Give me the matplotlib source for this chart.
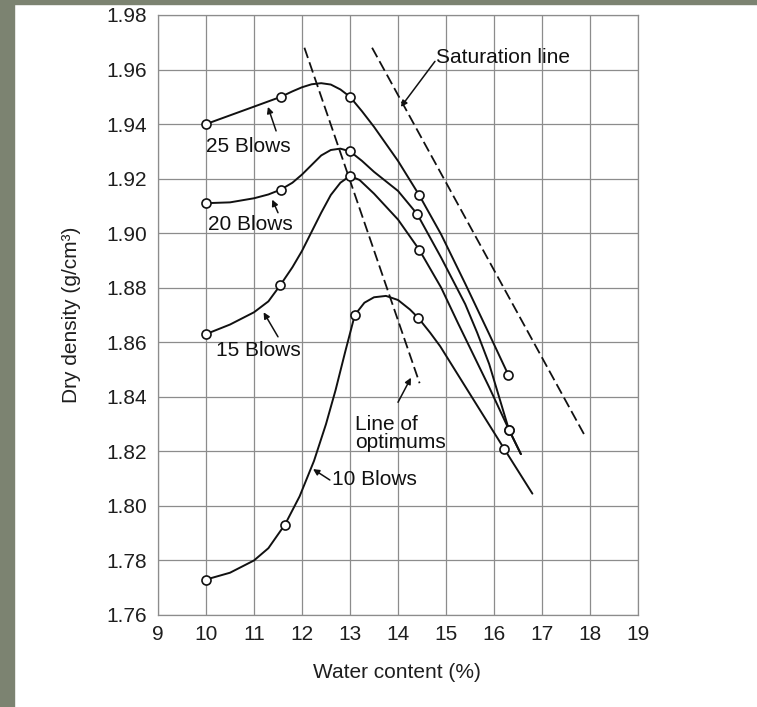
import matplotlib
matplotlib.use("Agg")
import matplotlib.pyplot as plt
from matplotlib.patches import Rectangle

plt.rcParams['font.family'] = ['Liberation Sans', 'DejaVu Sans']

# Marker points (water content %, dry density g/cm3)
w25 = [10.0, 11.56, 13.0, 14.44, 16.3]
d25 = [1.940, 1.950, 1.950, 1.914, 1.848]
w20 = [10.0, 11.56, 13.0, 14.4, 16.31]
d20 = [1.911, 1.916, 1.930, 1.907, 1.828]
w15 = [10.0, 11.55, 13.0, 14.44, 16.31]
d15 = [1.863, 1.881, 1.921, 1.894, 1.828]
w10 = [10.0, 11.65, 13.1, 14.42, 16.21]
d10 = [1.773, 1.793, 1.870, 1.869, 1.821]

# Hand-drawn curves
w25_curve = [10.0, 10.5, 11.0, 11.56, 11.8, 12.0, 12.2, 12.4, 12.6, 12.8, 13.0, 13.25, 13.5,
             14.0, 14.44, 14.9, 15.4, 15.9, 16.3]
d25_curve = [1.940, 1.9432, 1.9464, 1.950, 1.952, 1.9535, 1.9546, 1.955, 1.9545, 1.9527, 1.950,
             1.9447, 1.939, 1.9265, 1.914, 1.8995, 1.8815, 1.863, 1.848]
w20_curve = [10.0, 10.5, 11.0, 11.3, 11.56, 11.8, 12.0, 12.2, 12.4, 12.6, 12.8, 13.0, 13.25,
             13.5, 14.0, 14.4, 14.9, 15.4, 15.65, 15.9, 16.31, 16.56]
d20_curve = [1.911, 1.9113, 1.9128, 1.9142, 1.916, 1.9185, 1.9215, 1.925, 1.9285, 1.9305, 1.931,
             1.930, 1.9265, 1.9225, 1.9155, 1.907, 1.891, 1.874, 1.8635, 1.852, 1.828, 1.819]
w15_curve = [10.0, 10.5, 11.0, 11.3, 11.55, 11.8, 12.0, 12.2, 12.4, 12.6, 12.8, 13.0, 13.2,
             13.5, 14.0, 14.44, 14.9, 15.25, 15.9, 16.31, 16.56]
d15_curve = [1.863, 1.8665, 1.871, 1.875, 1.881, 1.8875, 1.8935, 1.9005, 1.9075, 1.914, 1.9185,
             1.921, 1.9195, 1.9145, 1.905, 1.894, 1.880, 1.867, 1.8435, 1.828, 1.819]
w10_curve = [10.0, 10.5, 11.0, 11.3, 11.65, 11.95, 12.25, 12.5, 12.7, 12.9, 13.1, 13.3, 13.5,
             13.75, 14.0, 14.25, 14.42, 14.67, 14.88, 15.5, 16.21, 16.8]
d10_curve = [1.773, 1.7755, 1.780, 1.7845, 1.7933, 1.8035, 1.8165, 1.830, 1.8425, 1.8565, 1.870,
             1.8745, 1.8765, 1.877, 1.8755, 1.872, 1.869, 1.8635, 1.8585, 1.841, 1.821, 1.8045]

# Straight reference lines (end points)
w_opt = [12.05, 14.45]
d_opt = [1.968, 1.845]
w_sat = [13.46, 17.9]
d_sat = [1.968, 1.8255]

x_ticks = list(range(9, 20))
y_ticks = [1.76, 1.78, 1.80, 1.82, 1.84, 1.86, 1.88, 1.90, 1.92, 1.94, 1.96, 1.98]

fig = plt.figure(figsize=(7.57, 7.07), dpi=100)
fig.patches.append(Rectangle((0, 0), 14 / 757, 1, transform=fig.transFigure,
                             color='#7c8371', zorder=0))
fig.patches.append(Rectangle((0, 1 - 4 / 707), 1, 4 / 707, transform=fig.transFigure,
                             color='#7c8371', zorder=0))

ax = fig.add_axes([158 / 757, 1 - 615 / 707, 480 / 757, 600 / 707])
ax.set_xlim(9, 19)
ax.set_ylim(1.76, 1.98)
ax.set_xticks(x_ticks)
ax.set_yticks(y_ticks)
ax.set_yticklabels([f'{v:.2f}' for v in y_ticks])
ax.grid(True, color='#8c8c8c', lw=0.9)
ax.set_axisbelow(True)
for s in ax.spines.values():
    s.set_color('#8c8c8c')
    s.set_linewidth(0.9)
ax.tick_params(length=0, labelsize=15, colors='#1e1e1e')
ax.tick_params(axis='y', pad=8)
ax.tick_params(axis='x', pad=7)

curves = [(w25_curve, d25_curve, w25, d25), (w20_curve, d20_curve, w20, d20),
          (w15_curve, d15_curve, w15, d15), (w10_curve, d10_curve, w10, d10)]
for wc, dc, wp, dp in curves:
    ax.plot(wc, dc, color='#111111', lw=1.4, zorder=3,
            solid_joinstyle='round', solid_capstyle='round')
    ax.plot(wp, dp, 'o', ms=6.5, mfc='white', mec='#111111', mew=1.2, zorder=4)

ax.plot(w_opt, d_opt, color='#111111', lw=1.3, dashes=(6, 2.5), zorder=3)
ax.plot(w_sat, d_sat, color='#111111', lw=1.3, dashes=(6, 2.5), zorder=3)

arrow = dict(arrowstyle='-|>', color='#111111', lw=1.1, mutation_scale=9, shrinkA=0, shrinkB=0)
txt = dict(fontsize=15, color='#111111', va='center', ha='left')

ax.text(14.79, 1.9645, 'Saturation line', **txt)
ax.annotate('', xy=(14.06, 1.9463), xytext=(14.77, 1.963), arrowprops=arrow)

ax.text(10.0, 1.9316, '25 Blows', **txt)
ax.annotate('', xy=(11.29, 1.9463), xytext=(11.46, 1.9375), arrowprops=arrow)

ax.text(10.04, 1.903, '20 Blows', **txt)
ax.annotate('', xy=(11.38, 1.9123), xytext=(11.5, 1.9075), arrowprops=arrow)

ax.text(10.2, 1.857, '15 Blows', **txt)
ax.annotate('', xy=(11.2, 1.871), xytext=(11.5, 1.862), arrowprops=arrow)

ax.text(12.62, 1.8095, '10 Blows', **txt)
ax.annotate('', xy=(12.23, 1.8135), xytext=(12.58, 1.8095), arrowprops=arrow)

ax.text(13.1, 1.8265, 'Line of\noptimums', fontsize=15, color='#111111',
        va='center', ha='left', linespacing=0.95)
ax.annotate('', xy=(14.27, 1.847), xytext=(14.0, 1.838), arrowprops=arrow)

ax.set_xlabel('Water content (%)', fontsize=15, color='#1e1e1e')
ax.set_ylabel('Dry density (g/cm³)', fontsize=15, color='#1e1e1e')
ax.xaxis.set_label_coords(0.498, -0.095)
ax.xaxis.label.set_va('center')
ax.yaxis.set_label_coords(-0.181, 0.5)
ax.yaxis.label.set_va('center')

fig.savefig('out.png', dpi=100)
